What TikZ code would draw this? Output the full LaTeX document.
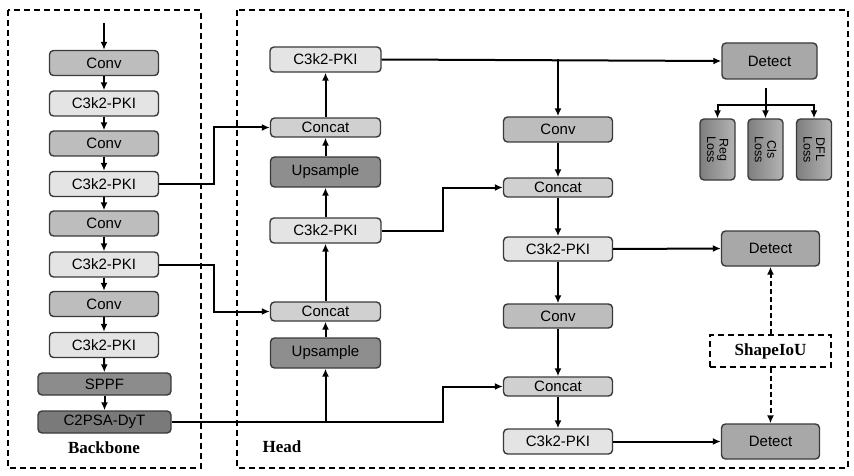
\documentclass[tikz,border=0pt]{standalone}
\usepackage{fontspec}
\setmainfont{Liberation Sans}
\newfontfamily\labelfont{Liberation Serif}
\usetikzlibrary{arrows.meta}

\definecolor{boxline}{HTML}{3A3A3A}
\definecolor{convgray}{HTML}{BDBDBD}
\definecolor{pkigray}{HTML}{E4E4E4}
\definecolor{catgray}{HTML}{D0D0D0}
\definecolor{upgray}{HTML}{8E8E8E}
\definecolor{sppfgray}{HTML}{8C8C8C}
\definecolor{psagray}{HTML}{7A7A7A}
\definecolor{detgray}{HTML}{A8A8A8}
\definecolor{lossdark}{HTML}{7E7E7E}
\definecolor{losslight}{HTML}{B4B4B4}

\tikzset{
	blk/.style = {draw = boxline, line width = 1.4pt, rounded corners = 4pt,
		inner sep = 0pt, font = \fontsize{15}{16}\selectfont},
	convbox/.style = {blk, fill = convgray, minimum width = 109, minimum height = 25},
	pkibox/.style  = {blk, fill = pkigray, minimum width = 109, minimum height = 25},
	catbox/.style  = {blk, fill = catgray, minimum width = 110, minimum height = 19},
	upbox/.style   = {blk, fill = upgray, minimum width = 110, minimum height = 30},
	detbox/.style  = {blk, fill = detgray, minimum width = 98, minimum height = 35},
	lossbox/.style = {blk, rotate = -90, align = center, left color = lossdark,
		right color = losslight, minimum width = 61, minimum height = 35,
		font = \fontsize{12.5}{12.5}\selectfont},
	arr/.style   = {line width = 2pt, -{Latex[length = 8pt, width = 7pt]}},
	darr/.style  = {arr, dash pattern = on 5pt off 3pt},
	frame/.style = {line width = 1.6pt, dash pattern = on 6pt off 4pt},
	title/.style = {font = \labelfont\bfseries\fontsize{17}{18}\selectfont},
}

\begin{document}
\begin{tikzpicture}[x = 1pt, y = -1pt]
	
	\useasboundingbox (0, 0) rectangle (854, 476);
	
	% frames
	\draw[frame] (8, 10) rectangle (201, 468);
	\draw[frame] (237, 10) rectangle (848, 468);
	\node[title] (backbone) at (104, 448) {Backbone};
	\node[title] (head) at (282, 447) {Head};
	
	% backbone
	\coordinate (in) at (104, 23);
	\node[convbox] (b1) at (104, 63) {Conv};
	\node[pkibox]  (b2) at (104, 103.5) {C3k2-PKI};
	\node[convbox] (b3) at (104, 143.5) {Conv};
	\node[pkibox]  (b4) at (104, 184) {C3k2-PKI};
	\node[convbox] (b5) at (104, 223.5) {Conv};
	\node[pkibox]  (b6) at (104, 264.5) {C3k2-PKI};
	\node[convbox] (b7) at (104, 304) {Conv};
	\node[pkibox]  (b8) at (104, 345) {C3k2-PKI};
	\node[blk, fill = sppfgray, minimum width = 133, minimum height = 22] (b9) at (104.5, 384) {SPPF};
	\node[blk, fill = psagray, minimum width = 133, minimum height = 22] (b10) at (104.5, 422) {C2PSA-DyT};
	
	\draw[arr] (in) -- (b1);
	\foreach \a/\b in {1/2, 2/3, 3/4, 4/5, 5/6, 6/7, 7/8, 8/9, 9/10}
		\draw[arr] (b\a) -- (b\b);
	
	% head, upward path
	\node[pkibox, minimum width = 111] (h1) at (325.5, 59.5) {C3k2-PKI};
	\node[catbox] (hcat1) at (325.5, 127.5) {Concat};
	\node[upbox]  (hup1) at (325.5, 172) {Upsample};
	\node[pkibox, minimum width = 111] (h2) at (325.5, 230.5) {C3k2-PKI};
	\node[catbox] (hcat2) at (325.5, 311.5) {Concat};
	\node[upbox]  (hup2) at (325.5, 353) {Upsample};
	
	\draw[arr] (hup2) -- (hcat2);
	\draw[arr] (hcat2) -- (h2);
	\draw[arr] (h2) -- (hup1);
	\draw[arr] (hup1) -- (hcat1);
	\draw[arr] (hcat1) -- (h1);
	
	% head, downward path
	\node[convbox] (n1) at (558, 129.5) {Conv};
	\node[catbox, minimum width = 109] (ncat1) at (558, 187.5) {Concat};
	\node[pkibox, minimum height = 24] (n2) at (558, 249) {C3k2-PKI};
	\node[convbox, minimum height = 24] (n3) at (558, 316) {Conv};
	\node[catbox, minimum width = 109] (ncat2) at (558, 386.5) {Concat};
	\node[pkibox] (n4) at (558, 441.5) {C3k2-PKI};
	
	\draw[arr] (n1) -- (ncat1);
	\draw[arr] (ncat1) -- (n2);
	\draw[arr] (n2) -- (n3);
	\draw[arr] (n3) -- (ncat2);
	\draw[arr] (ncat2) -- (n4);
	
	% skip links
	\coordinate (k1) at (214, 0);
	\coordinate (k2) at (443, 0);
	\draw[arr] (b4.east) -- (b4.east -| k1) |- (hcat1.west);
	\draw[arr] (b6.east) -- (b6.east -| k1) |- (hcat2.west);
	\draw[arr] (b10.east) -- (b10.east -| k2) |- (ncat2.west);
	\draw[arr] (b10.east -| hup2) -- (hup2.south);
	\draw[arr] (h2.east) -- (h2.east -| k2) |- (ncat1.west);
	\draw[arr] (h1.east -| n1) -- (n1.north);
	
	% detect heads
	\node[detbox, minimum width = 95, minimum height = 36] (det1) at (769.5, 61) {Detect};
	\node[detbox] (det2) at (770.5, 248.5) {Detect};
	\node[detbox] (det3) at (770.5, 441.5) {Detect};
	
	\draw[arr] (h1.east) -- (det1.west);
	\draw[arr] (n2.east) -- (det2.west);
	\draw[arr] (n4.east) -- (det3.west);
	
	% losses
	\node[lossbox] (reg) at (717.5, 149.5) {Reg\\Loss};
	\node[lossbox] (cls) at (765.5, 149.5) {Cls\\Loss};
	\node[lossbox] (dfl) at (814, 149.5) {DFL\\Loss};
	
	\coordinate (lt) at (765.5, 88);
	\coordinate (lb) at (765.5, 105);
	\draw[arr] (lt) -- (cls.west);
	\draw[arr] (lb) -| (reg.west);
	\draw[arr] (lb) -| (dfl.west);
	
	% shape iou
	\node[draw, frame, title, minimum width = 121, minimum height = 32] (iou) at (770.5, 351) {ShapeIoU};
	\draw[darr] (iou.north) -- (det2.south);
	\draw[darr] (iou.south) -- (det3.north);
	
\end{tikzpicture}
\end{document}
